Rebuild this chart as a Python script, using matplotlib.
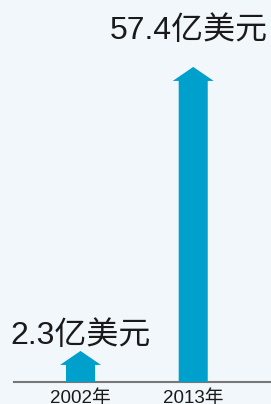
import matplotlib
matplotlib.use('Agg')
import matplotlib.pyplot as plt
import numpy as np

# Export value in 100 million USD, one per year
years = ['2002年', '2013年']
values = [2.3, 57.4]
labels = ['2.3亿美元', '57.4亿美元']

BG = '#f2f7fc'
ARROW_BLUE = '#00a0cd'
FONTS = ['Liberation Sans', 'Noto Sans CJK SC', 'DejaVu Sans']

# the original chart does not use a linear scale; a power scale reproduces it
POWER = 0.72


def fwd(v):
    return np.sign(v) * np.abs(v) ** POWER


def inv(v):
    return np.sign(v) * np.abs(v) ** (1.0 / POWER)


fig = plt.figure(figsize=(2.71, 4.04), dpi=100)
fig.patch.set_facecolor(BG)
ax = fig.add_axes([14 / 271, 22 / 404, 257 / 271, 382 / 404])
ax.set_facecolor(BG)
ax.set_yscale('function', functions=(fwd, inv))
ax.set_ylim(0, 75)
ax.set_xlim(-0.59, 1.69)

xs = np.arange(len(years))
for x, v in zip(xs, values):
    ax.annotate('', xy=(x, v), xytext=(x, 0),
                arrowprops=dict(arrowstyle='simple,head_length=10.1,head_width=29.5,tail_width=20.9',
                                mutation_scale=1, shrinkA=0, shrinkB=0,
                                fc=ARROW_BLUE, ec='none', lw=0))

# label gap above each arrow tip (points)
label_pad = [5, 20]
label_shift = [0, -3]
for x, v, lab, pad, dx in zip(xs, values, labels, label_pad, label_shift):
    ax.annotate(lab, xy=(x, v), xytext=(dx, pad), textcoords='offset points',
                ha='center', va='baseline', fontsize=23, color='#1a1a1a',
                family=FONTS)

for s in ['top', 'right', 'left']:
    ax.spines[s].set_visible(False)
ax.spines['bottom'].set_color('#777777')
ax.spines['bottom'].set_linewidth(1.5)
ax.set_yticks([])
ax.minorticks_off()
ax.set_xticks(xs)
ax.set_xticklabels(years, fontsize=13.5, color='#1a1a1a', family=FONTS)
ax.tick_params(axis='x', length=0, pad=5.5)
ax.tick_params(axis='y', which='both', length=0, labelleft=False)

fig.savefig('out.png', dpi=100, facecolor=BG)
